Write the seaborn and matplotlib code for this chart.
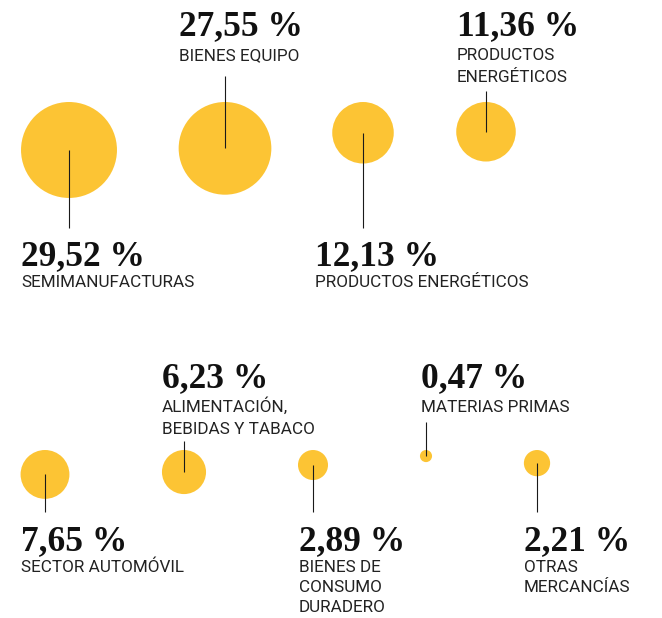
import numpy as np
import pandas as pd
import matplotlib.pyplot as plt
import seaborn as sns

# data
categories = ["SEMIMANUFACTURAS", "BIENES EQUIPO", "PRODUCTOS ENERGÉTICOS",
              "PRODUCTOS\nENERGÉTICOS", "SECTOR AUTOMÓVIL",
              "ALIMENTACIÓN,\nBEBIDAS Y TABACO", "BIENES DE\nCONSUMO\nDURADERO",
              "MATERIAS PRIMAS", "OTRAS\nMERCANCÍAS"]
values = [29.52, 27.55, 12.13, 11.36, 7.65, 6.23, 2.89, 0.47, 2.21]

# layout, in pixels of the 662x618 canvas
row = [0, 0, 0, 0, 1, 1, 1, 1, 1]
center_x = [69, 225, 363, 486, 45, 184, 313, 426, 537]
text_x = [21, 179, 315, 457, 21, 162, 299, 421, 524]
side = ["below", "above", "below", "above", "below", "above", "below", "above", "below"]
line_end = [228, 76, 228, 91, 512, 441, 512, 422, 512]
row_top = [102, 450]
value_base_below = [265, 550]
value_base_above = [35, 387]
label_first_above = [60, 412]
label_gap = [22, 20]

W, H, DPI = 662, 618, 100
K = 8.83  # px of radius per sqrt(%)
YELLOW = "#FCC434"

df = pd.DataFrame({"cat": categories, "value": values, "row": row, "x": center_x})
df["r"] = K * np.sqrt(df["value"])
df["y"] = [row_top[rw] for rw in df["row"]] + df["r"]

smax = (2 * K * np.sqrt(max(values)) * 72 / DPI) ** 2

fig = plt.figure(figsize=(W / DPI, H / DPI), dpi=DPI)
ax = fig.add_axes([0, 0, 1, 1])
sns.scatterplot(data=df, x="x", y="y", size="value", sizes=(0, smax),
                size_norm=(0, max(values)), color=YELLOW, linewidth=0,
                legend=False, ax=ax, zorder=2)
ax.vlines(df["x"], df["y"], line_end, color="#1a1a1a", lw=0.8, zorder=3)

for i, r in df.iterrows():
    lab = f"{r['value']:.2f}".replace(".", ",") + " %"
    lines = r["cat"].split("\n")
    if side[i] == "below":
        vb = value_base_below[r["row"]]
        lb = vb + 22
        gap = label_gap[1]
    else:
        vb = value_base_above[r["row"]]
        lb = label_first_above[r["row"]]
        gap = label_gap[0]
    ax.text(text_x[i], vb, lab, fontsize=25.5, fontweight="bold",
            family="Liberation Serif", va="baseline", ha="left", color="#111")
    for j, ln in enumerate(lines):
        ax.text(text_x[i], lb + j * gap, ln, fontsize=12.3, family="Roboto",
                va="baseline", ha="left", color="#222")

ax.set_xlim(0, W)
ax.set_ylim(H, 0)
ax.axis("off")
fig.savefig("out.png", dpi=DPI)
